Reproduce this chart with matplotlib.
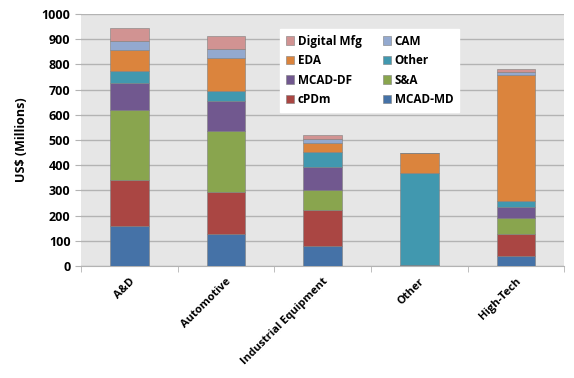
import numpy as np
import matplotlib
matplotlib.use("Agg")
import matplotlib.pyplot as plt

plt.rcParams['font.family'] = ['Open Sans', 'DejaVu Sans']
plt.rcParams['font.weight'] = 'bold'

categories = ["A&D", "Automotive", "Industrial Equipment", "Other", "High-Tech"]

# stacked from bottom to top
mcad_md = [161, 127, 79, 0, 42]
cpdm = [182, 165, 144, 0, 85]
s_a = [278, 244, 77, 0, 62]
mcad_df = [106, 118, 95, 3, 45]
other = [46, 40, 57, 367, 24]
eda = [84, 133, 37, 80, 499]
cam = [37, 34, 14, 0, 12]
digital_mfg = [51, 52, 17, 0, 13]

series = [
    ("MCAD-MD", mcad_md, "#4572A7"),
    ("cPDm", cpdm, "#AA4643"),
    ("S&A", s_a, "#89A54E"),
    ("MCAD-DF", mcad_df, "#71588F"),
    ("Other", other, "#4198AF"),
    ("EDA", eda, "#DB843D"),
    ("CAM", cam, "#93A9CF"),
    ("Digital Mfg", digital_mfg, "#D19392"),
]

fig = plt.figure(figsize=(5.74, 3.78), dpi=100)
ax = fig.add_axes([0.141, 0.296, 0.842, 0.667])
ax.set_facecolor("#E6E6E6")

x = np.arange(len(categories))
bottom = np.zeros(len(categories))
bars = {}
for name, vals, col in series:
    vals = np.array(vals, dtype=float)
    bars[name] = ax.bar(x, vals, 0.4, bottom=bottom, color=col,
                        edgecolor="#7f7f7f", linewidth=0.4, label=name, zorder=3)
    bottom += vals

ax.set_xlim(-0.5, len(categories) - 0.5)
ax.set_ylim(0, 1000)
ax.set_yticks(range(0, 1001, 100))
ax.yaxis.grid(True, color="#B3B3B3", linewidth=1.0, zorder=0)
ax.set_axisbelow(True)

for s in ["top", "right"]:
    ax.spines[s].set_visible(False)
ax.spines["left"].set_visible(False)
ax.spines["bottom"].set_color("#B3B3B3")

ax.set_xticks(x)
ax.set_xticklabels(categories, rotation=45, ha="right", rotation_mode="anchor",
                   fontsize=8, fontweight="bold")
ax.set_xticks(np.arange(-0.5, len(categories), 1.0), minor=True)
ax.tick_params(axis="x", which="major", length=0, pad=7)
ax.tick_params(axis="x", which="minor", length=4, color="#B3B3B3")
ax.tick_params(axis="y", length=4, color="#B3B3B3", labelsize=9)
for lbl in ax.get_yticklabels():
    lbl.set_fontweight("bold")

ax.set_ylabel("US$ (Millions)", fontsize=9, fontweight="bold", labelpad=10)

order = ["Digital Mfg", "EDA", "MCAD-DF", "cPDm", "CAM", "Other", "S&A", "MCAD-MD"]
leg = ax.legend([bars[n] for n in order], order, ncol=2, loc="upper left",
                bbox_to_anchor=(0.4, 0.965), frameon=True, fancybox=False,
                edgecolor="white", facecolor="white", framealpha=1.0,
                fontsize=8.5, handlelength=0.7, handleheight=0.7,
                handletextpad=0.3, columnspacing=1.8, labelspacing=0.55,
                borderpad=0.5)
for t in leg.get_texts():
    t.set_fontweight("bold")
leg.set_zorder(5)

fig.savefig("out.png", dpi=100)
